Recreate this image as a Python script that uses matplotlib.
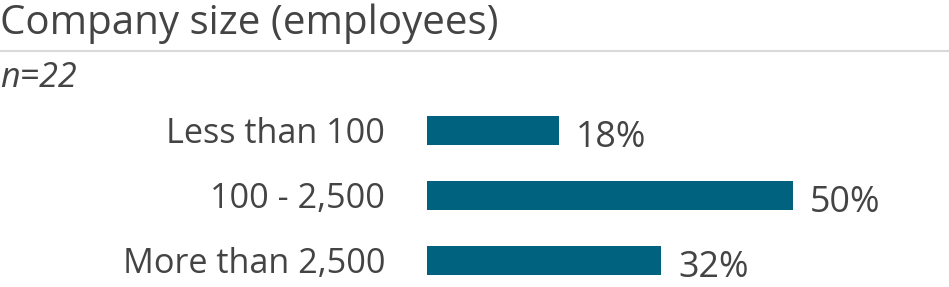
import matplotlib.pyplot as plt

# --- Datos ---
categories = ["Less than 100", "100 - 2,500", "More than 2,500"]
shares = [18, 50, 32]
title = "Company size (employees)"
note = "n=22"

BAR_COLOR = "#00627f"
TEXT_COLOR = "#444444"
W, H = 949, 287

plt.rcParams['font.family'] = ['Open Sans', 'DejaVu Sans']

fig = plt.figure(figsize=(W / 100, H / 100), dpi=100)

# ejes: barras empiezan en x=427 px, 50% llega a 793 px
ax = fig.add_axes([427 / W, 0, (793 - 427) / W, (287 - 98) / H])
ax.barh(range(len(categories)), shares, height=0.446, color=BAR_COLOR)
ax.set_xlim(0, 50)
ax.set_ylim(2.408, -0.5)

ax.set_yticks(range(len(categories)))
ax.set_yticklabels(categories, fontsize=24.7, color=TEXT_COLOR)
ax.tick_params(axis='y', length=0, pad=30)
ax.set_xticks([])
for s in ax.spines.values():
    s.set_visible(False)

for i, v in enumerate(shares):
    ax.annotate(f"{v}%", xy=(v, i), xytext=(17, -16.5), textcoords='offset pixels',
                va='baseline', ha='left', fontsize=25.8, color=TEXT_COLOR,
                annotation_clip=False)

# --- Título, línea y nota ---
fig.text(0.0, 1 - 34 / H, title, fontsize=29, color=TEXT_COLOR, va='baseline', ha='left')
fig.add_artist(plt.Line2D([0, 1], [1 - 50.7 / H] * 2, transform=fig.transFigure,
                          color="#d9d9d9", lw=1.5))
fig.text(0.0, 1 - 87 / H, note, fontsize=24.6, style='italic', color=TEXT_COLOR,
         va='baseline', ha='left')

fig.savefig("out.png", dpi=100)
